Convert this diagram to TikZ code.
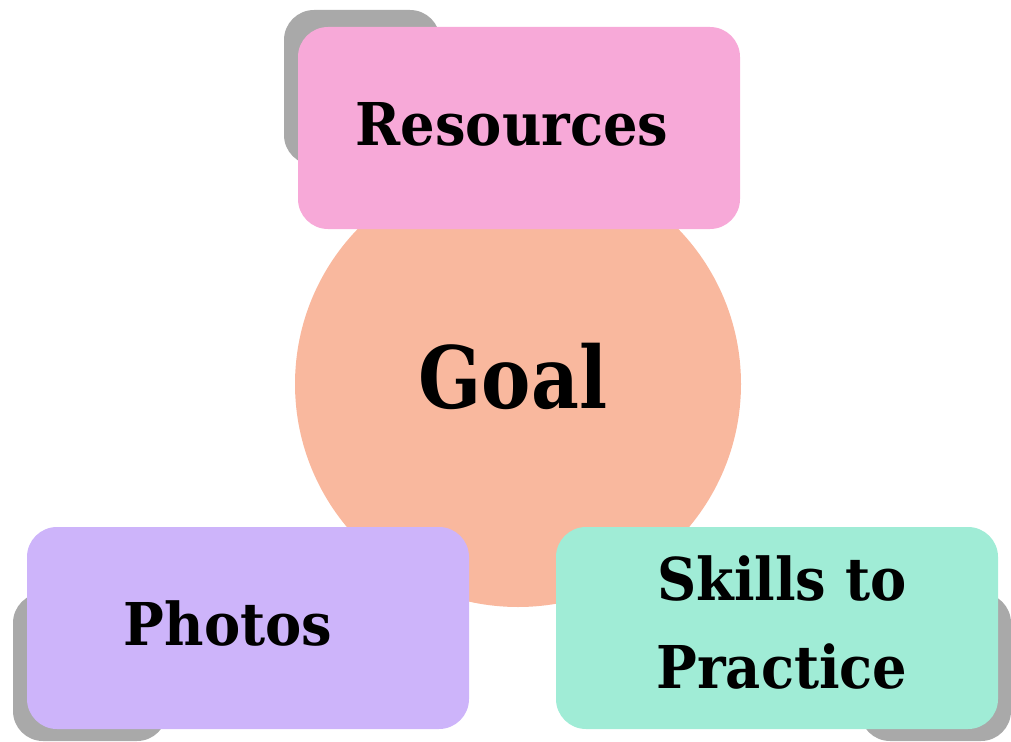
\documentclass[tikz,border=0pt]{standalone}
\usepackage{fontspec}
\setmainfont{DejaVu Serif}[FakeStretch=0.92]
\newfontfamily\goalfont{DejaVu Serif}[FakeStretch=0.86]
\definecolor{shgray}{HTML}{A9A9A9}
\definecolor{goalc}{HTML}{F9B89E}
\definecolor{resc}{HTML}{F7A9D8}
\definecolor{photc}{HTML}{CDB4FA}
\definecolor{skillc}{HTML}{A0ECD6}
\begin{document}
\begin{tikzpicture}[x=1pt,y=-1pt,
  box/.style={rounded corners=30pt, minimum width=442pt, minimum height=202pt, inner sep=0pt},
  shadowbox/.style={fill=shgray, rounded corners=30pt},
  lbl/.style={font=\fontsize{59}{66}\selectfont\bfseries, anchor=base, inner sep=0pt},
  biglbl/.style={font=\goalfont\fontsize{86}{96}\selectfont\bfseries, anchor=base, inner sep=0pt}]
\useasboundingbox (0,0) rectangle (1011,741);
\fill[shadowbox] (284,10) rectangle (440,165);
\fill[shadowbox] (13,593) rectangle (167,741);
\fill[shadowbox] (860,593) rectangle (1011,741);
\node[circle, fill=goalc, minimum size=446pt, inner sep=0pt] (goal) at (518,384) {};
\node[box, fill=resc] (res) at (519,128) {};
\node[box, fill=photc] (phot) at (248,628) {};
\node[box, fill=skillc] (skill) at (777,628) {};
\node[lbl] (restxt) at (512,145) {Resources};
\node[biglbl] (goaltxt) at (513,408) {Goal};
\node[lbl] (phottxt) at (228,645) {Photos};
\node[lbl] (skilltxt1) at (782,600) {Skills to};
\node[lbl] (skilltxt2) at (782,688) {Practice};
\end{tikzpicture}
\end{document}
